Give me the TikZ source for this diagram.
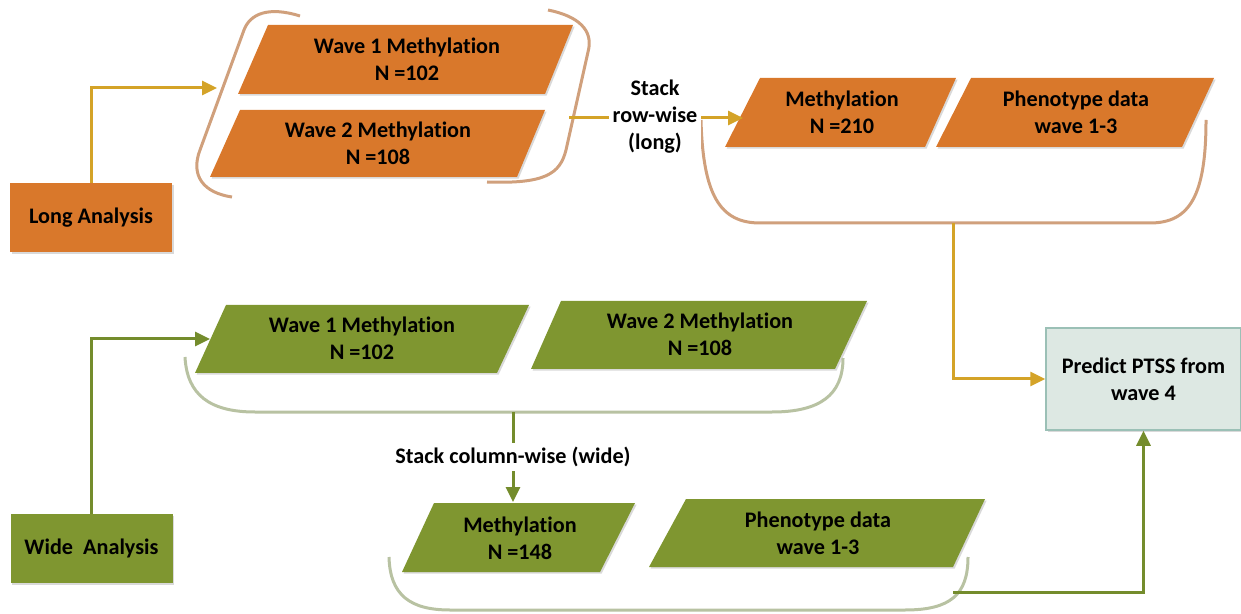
\documentclass[tikz,border=0pt]{standalone}
\usepackage{fontspec}
\setmainfont{Carlito}[Ligatures={NoCommon}]
\usetikzlibrary{arrows.meta,shadows}
\definecolor{orng}{RGB}{217,120,43}
\definecolor{grn}{RGB}{127,150,48}
\definecolor{gold}{RGB}{212,163,40}
\definecolor{dgrn}{RGB}{116,140,44}
\definecolor{tanc}{RGB}{208,160,124}
\definecolor{sage}{RGB}{184,194,162}
\definecolor{predfill}{RGB}{221,232,227}
\definecolor{predline}{RGB}{155,192,182}
\begin{document}
\begin{tikzpicture}[x=0.5pt,y=-0.5pt,
  lbl/.style={font=\fontsize{11.1}{13.5}\selectfont\bfseries, align=center, text=black, inner sep=1pt},
  shad/.style={drop shadow={shadow xshift=0.8pt, shadow yshift=-0.8pt, opacity=0.25, fill=black!60}},
  ofill/.style={fill=orng, shad},
  gfill/.style={fill=grn, shad},
  obrk/.style={draw=tanc, line width=1.5pt},
  gbrk/.style={draw=sage, line width=1.5pt},
  oarr/.style={draw=gold, line width=1.5pt, -{Triangle[length=7.5pt,width=7pt]}},
  garr/.style={draw=dgrn, line width=1.5pt, -{Triangle[length=7.5pt,width=7pt]}},
  abox/.style={lbl, minimum width=81pt, minimum height=34.5pt, shad},
]
\useasboundingbox (0,0) rectangle (1241,614);

% ---------- Long analysis (orange) ----------
\node[abox, fill=orng] (long) at (91,217.5) {Long Analysis};

\fill[ofill] (268,25) -- (573,25) -- (545,94) -- (238,94) -- cycle;
\node[lbl] (ow1) at (407,59.5) {Wave 1 Methylation\\N =102};
\fill[ofill] (240,110) -- (545,110) -- (517,177) -- (210,177) -- cycle;
\node[lbl] (ow2) at (378,143.5) {Wave 2 Methylation\\N =108};

% brackets around wave 1/2
\draw[obrk] (300,16) .. controls (268,6) and (250,14) .. (244,30) -- (200,150) .. controls (190,176) and (204,193) .. (232,197);
\draw[obrk] (548,10) .. controls (578,16) and (594,30) .. (588,52) -- (566,150) .. controls (560,174) and (545,184) .. (487,182);

\fill[ofill] (760,78) -- (956,78) -- (925,147) -- (725,147) -- cycle;
\node[lbl] (m210) at (842,112.5) {Methylation\\N =210};
\fill[ofill] (971,78) -- (1214,78) -- (1182,147) -- (936,147) -- cycle;
\node[lbl] (oph) at (1076,112.5) {Phenotype data\\wave 1-3};

\draw[obrk] (701,120) .. controls (703,195) and (720,223) .. (760,223) -- (1150,223) .. controls (1190,223) and (1206,195) .. (1206,120);

\coordinate (obin) at (217,88);
\coordinate (obout) at (569,118);
\coordinate (m210in) at (743,118);
\coordinate (urb) at (953,223);

\draw[oarr] (long.north) |- (obin);
\draw[oarr] (obout) -- (m210in);
\node[lbl, fill=white, inner sep=2pt] (rowlbl) at (655,117) {Stack\\row-wise\\(long)};

% ---------- Predict ----------
\node[lbl, fill=predfill, draw=predline, line width=0.75pt, minimum width=97.5pt, minimum height=51pt, shad] (pred) at (1143.5,379) {Predict PTSS from\\wave 4};
\draw[oarr] (urb) |- (pred.west);

% ---------- Wide analysis (green) ----------
\node[abox, fill=grn] (wide) at (91.5,548.5) {Wide~~Analysis};

\fill[gfill] (226,305) -- (529,305) -- (497,373) -- (195,373) -- cycle;
\node[lbl] (gw1) at (362,338.5) {Wave 1 Methylation\\N =102};
\fill[gfill] (561,301) -- (867,301) -- (835,369) -- (531,369) -- cycle;
\node[lbl] (gw2) at (700,334.5) {Wave 2 Methylation\\N =108};

\draw[gbrk] (185,357) .. controls (187,395) and (210,412) .. (255,412) -- (772,412) .. controls (820,412) and (843,395) .. (843,358);

\fill[gfill] (434,503) -- (635,503) -- (600,572) -- (402,572) -- cycle;
\node[lbl] (m148) at (520,538) {Methylation\\N =148};
\fill[gfill] (686,499) -- (985,499) -- (953,567) -- (649,567) -- cycle;
\node[lbl] (gph) at (818,533.5) {Phenotype data\\wave 1-3};

\draw[gbrk] (389,557) .. controls (390,595) and (410,610) .. (450,610) -- (905,610) .. controls (950,610) and (968,595) .. (968,557);

\coordinate (gw1in) at (210,339);
\coordinate (gbr) at (513,412);
\coordinate (m148in) at (513,502);
\coordinate (bbr) at (953,592);

\draw[garr] (wide.north) |- (gw1in);
\draw[garr] (gbr) -- (m148in);
\node[lbl, fill=white, inner sep=2pt] (collbl) at (513,457) {Stack column-wise (wide)};
\draw[garr] (bbr) -| (pred.south);
\end{tikzpicture}
\end{document}
